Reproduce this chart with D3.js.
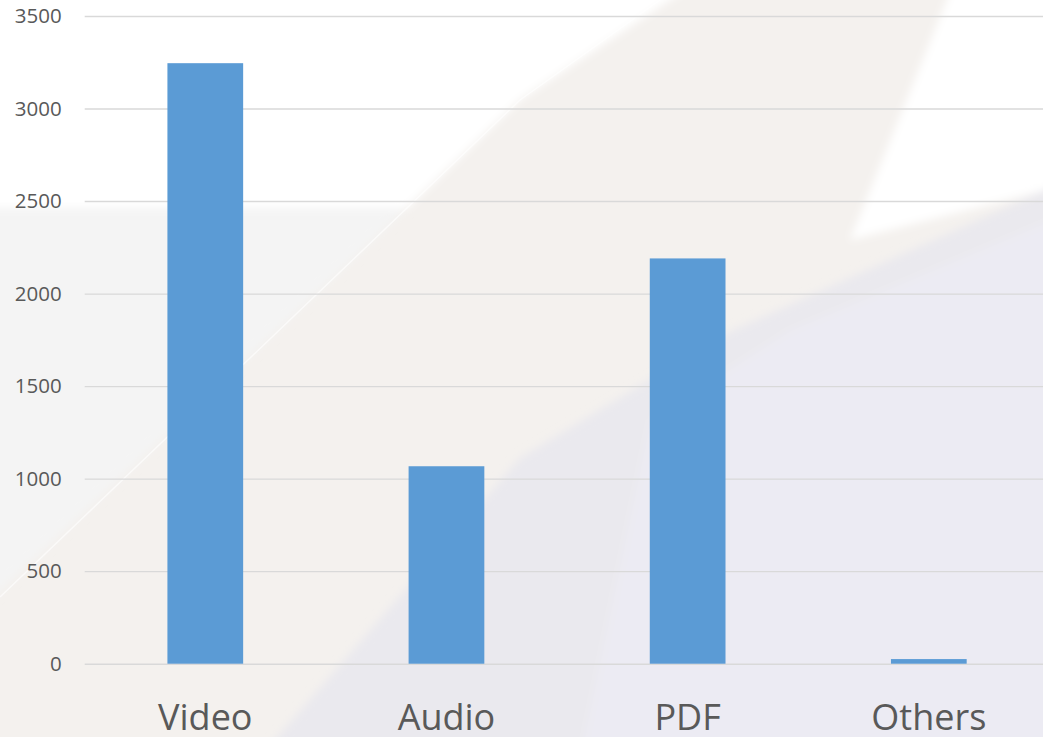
<!DOCTYPE html>
<html>
<head>
<meta charset="utf-8">
<script src="https://cdn.jsdelivr.net/npm/d3@7"></script>
<style>
  html, body { margin: 0; padding: 0; overflow: hidden; }
  svg { display: block; font-family: "Open Sans", sans-serif; }
</style>
</head>
<body>
<div id="chart"></div>
<script>
const categories = ["Video", "Audio", "PDF", "Others"];
const values = [3245, 1067, 2190, 25];
const yTicks = [0, 500, 1000, 1500, 2000, 2500, 3000, 3500];

const W = 1043, H = 737;
const MARGIN = {TOP: 16, LEFT: 84.7, RIGHT: -6.4, BOTTOM: 73.3};
const WIDTH = W - MARGIN.LEFT - MARGIN.RIGHT;
const HEIGHT = H - MARGIN.TOP - MARGIN.BOTTOM;

const svg = d3.select("#chart")
  .append("svg")
  .attr("width", W)
  .attr("height", H);

svg.append("defs").append("filter")
  .attr("id", "soft")
  .attr("x", "-5%").attr("y", "-5%").attr("width", "110%").attr("height", "110%")
  .append("feGaussianBlur").attr("stdDeviation", 4);

// slide background (decorative shapes)
const bg = svg.append("g");
bg.append("rect").attr("width", W).attr("height", H).attr("fill", "#f4f1ee");
const soft = bg.append("g").attr("filter", "url(#soft)");
soft.append("path").attr("d", "M-20,-20 L700,-20 L520,100 L407,208 L-20,208 Z").attr("fill", "#ffffff");
soft.append("path").attr("d", "M-20,208 L407,208 L-20,610 Z").attr("fill", "#f4f4f4");
soft.append("path").attr("d", "M955,-20 L1063,-20 L1063,186 L850,240 Z").attr("fill", "#ffffff");
soft.append("path").attr("d", "M260,757 L520,458 L727,333 L1063,182 L1063,757 Z").attr("fill", "#eae9ee");
soft.append("path").attr("d", "M580,757 L650,420 L790,330 L1063,215 L1063,757 Z").attr("fill", "#ecebf3");
bg.append("path").attr("d", "M0,597 L520,100 L660,0").attr("fill", "none")
  .attr("stroke", "#ffffff").attr("stroke-width", 1.5).attr("opacity", 0.6);

const g = svg.append("g")
  .attr("transform", `translate(${MARGIN.LEFT},${MARGIN.TOP})`);

const x = d3.scaleBand()
  .domain(categories)
  .range([0, WIDTH])
  .paddingInner(0.686)
  .paddingOuter(0.343);

const y = d3.scaleLinear()
  .domain([0, 3500])
  .range([HEIGHT, 0]);

// y axis + gridlines
const yAxisGroup = g.append("g")
  .call(d3.axisLeft(y).tickValues(yTicks).tickSize(-WIDTH).tickPadding(23).tickFormat(d3.format("d")));
yAxisGroup.select(".domain").remove();
yAxisGroup.selectAll("line").attr("stroke", "#d9d9d9").attr("stroke-width", 1.4);
yAxisGroup.selectAll("text")
  .attr("fill", "#595959")
  .style("font-size", "20.5px")
  .style("font-family", "'Open Sans', sans-serif");

// bars
g.selectAll("rect.bar")
  .data(values)
  .enter()
  .append("rect")
  .attr("class", "bar")
  .attr("x", (d, i) => x(categories[i]))
  .attr("y", d => y(d))
  .attr("width", x.bandwidth())
  .attr("height", d => HEIGHT - y(d))
  .attr("fill", "#5b9bd5");

// x axis labels
const xAxisGroup = g.append("g")
  .attr("transform", `translate(0,${HEIGHT})`)
  .call(d3.axisBottom(x).tickSize(0));
xAxisGroup.select(".domain").remove();
xAxisGroup.selectAll("text")
  .attr("y", 66)
  .attr("dy", 0)
  .attr("fill", "#595959")
  .style("font-size", "36px")
  .style("font-family", "'Open Sans', sans-serif");
</script>
</body>
</html>
